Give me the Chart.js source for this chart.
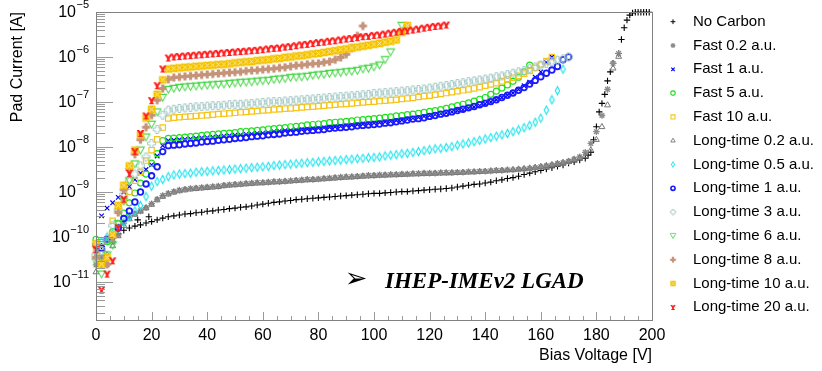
<!DOCTYPE html>
<html>
<head>
<meta charset="utf-8">
<script src="https://cdn.jsdelivr.net/npm/chart.js@4.4.0/dist/chart.umd.min.js"></script>
<style>
  html, body { margin: 0; padding: 0; background: #fff; }
  canvas { display: block; }
</style>
</head>
<body>
<canvas id="ivChart" width="822" height="371"></canvas>
<script>
// ---- data (bias voltage in V, pad current in A) ----
const biasV2 = [0,2,4,6,8,10,12,14,16,18,20,22,24,26,28,30,32,34,36,38,40,42,44,46,48,50,52,54,56,58,
  60,62,64,66,68,70,72,74,76,78,80,82,84,86,88,90,92,94,96,98,100,102,104,106,108,110,112,114,116,118,
  120,122,124,126,128,130,132,134,136,138,140,142,144,146,148,150,152,154,156,158,160,162,164,166,168,
  170,172,174,176,178,180,182,184,186,188];

const noCarbonV = [0,2,4,6,8,10,12,14,15,16,18,19,20,
  22,24,26,28,30,32,34,36,38,40,42,44,46,48,50,52,54,56,58,60,62,64,66,68,70,72,74,76,78,80,
  82,84,86,88,90,92,94,96,98,100,102,104,106,108,110,112,114,116,118,120,122,124,126,128,130,
  132,134,136,138,140,142,144,146,148,150,152,154,156,158,160,162,164,166,168,170,172,174,176,
  177,178,179,180,181,182,183,184,185,186,188,189,190,191,192,193,194,195,196,197,198,199];
const noCarbonI = [4.5e-11,6.2e-11,7.9e-11,9.5e-11,1.17e-10,1.41e-10,1.58e-10,1.74e-10,2.4e-10,1.86e-10,2.04e-10,2.82e-10,2.19e-10,
  2.4e-10,2.63e-10,2.82e-10,2.95e-10,3.09e-10,3.24e-10,3.31e-10,3.47e-10,3.55e-10,3.72e-10,
  3.8e-10,3.98e-10,4.07e-10,4.27e-10,4.37e-10,4.57e-10,4.68e-10,4.9e-10,5.13e-10,5.37e-10,
  5.62e-10,5.89e-10,6.03e-10,6.31e-10,6.46e-10,6.76e-10,6.92e-10,7.08e-10,7.24e-10,7.41e-10,
  7.59e-10,7.76e-10,7.94e-10,8.13e-10,8.32e-10,8.51e-10,8.71e-10,8.91e-10,9.12e-10,9.33e-10,
  9.33e-10,9.55e-10,9.77e-10,1.0e-9,1.02e-9,1.02e-9,1.05e-9,1.07e-9,1.1e-9,1.12e-9,
  1.15e-9,1.17e-9,1.2e-9,1.23e-9,1.29e-9,1.35e-9,1.41e-9,1.48e-9,1.51e-9,1.58e-9,
  1.66e-9,1.78e-9,1.86e-9,2.0e-9,2.09e-9,2.24e-9,2.45e-9,2.63e-9,2.82e-9,3.02e-9,
  3.24e-9,3.47e-9,3.72e-9,3.98e-9,4.37e-9,4.68e-9,5.13e-9,5.62e-9,
  6.61e-9,7.59e-9,1.45e-8,2.82e-8,6.03e-8,9.33e-8,1.48e-7,2.95e-7,4.68e-7,7.24e-7,
  1.2e-6,2.45e-6,4.47e-6,6.61e-6,8.51e-6,9.55e-6,9.9e-6,9.9e-6,9.9e-6,9.9e-6,9.9e-6,9.9e-6];

const fast02I = [2.4e-11,3.55e-11,2.4e-11,7.94e-11,1.12e-10,2.0e-10,2.75e-10,3.31e-10,3.8e-10,4.47e-10,
  5.5e-10,6.92e-10,8.32e-10,9.33e-10,1.02e-9,1.1e-9,1.15e-9,1.2e-9,1.23e-9,1.26e-9,
  1.29e-9,1.32e-9,1.35e-9,1.41e-9,1.45e-9,1.48e-9,1.51e-9,1.55e-9,1.58e-9,1.62e-9,
  1.62e-9,1.66e-9,1.7e-9,1.7e-9,1.74e-9,1.78e-9,1.82e-9,1.86e-9,1.91e-9,1.91e-9,
  1.95e-9,2.0e-9,2.04e-9,2.09e-9,2.14e-9,2.19e-9,2.19e-9,2.24e-9,2.29e-9,2.34e-9,
  2.34e-9,2.4e-9,2.4e-9,2.45e-9,2.45e-9,2.51e-9,2.51e-9,2.57e-9,2.57e-9,2.63e-9,
  2.63e-9,2.63e-9,2.69e-9,2.69e-9,2.69e-9,2.75e-9,2.75e-9,2.82e-9,2.82e-9,2.88e-9,
  2.88e-9,2.95e-9,3.02e-9,3.02e-9,3.09e-9,3.09e-9,3.16e-9,3.24e-9,3.31e-9,3.47e-9,
  3.63e-9,3.8e-9,3.98e-9,4.27e-9,4.47e-9,4.79e-9,5.37e-9,6.03e-9,7.59e-9,1.2e-8,
  2.19e-8,5.01e-8,1.91e-7,7.24e-7,1.2e-6];

const fast1I = [4.0e-11,2.95e-10,4.37e-10,5.75e-10,7.6e-10,1.0e-9,1.32e-9,1.9e-9,2.63e-9,3.16e-9,
  4.0e-9,6.3e-9,1.07e-8,1.38e-8,1.41e-8,1.45e-8,1.48e-8,1.51e-8,1.55e-8,1.58e-8,
  1.62e-8,1.66e-8,1.7e-8,1.74e-8,1.78e-8,1.82e-8,1.86e-8,1.9e-8,1.95e-8,2.0e-8,
  2.04e-8,2.09e-8,2.19e-8,2.24e-8,2.29e-8,2.34e-8,2.4e-8,2.45e-8,2.51e-8,2.57e-8,
  2.63e-8,2.69e-8,2.75e-8,2.82e-8,2.88e-8,3.02e-8,3.09e-8,3.16e-8,3.24e-8,3.31e-8,
  3.39e-8,3.47e-8,3.63e-8,3.72e-8,3.89e-8,3.98e-8,4.17e-8,4.37e-8,4.57e-8,4.79e-8,
  5.01e-8,5.25e-8,5.5e-8,5.75e-8,6.03e-8,6.46e-8,6.76e-8,7.24e-8,7.76e-8,8.32e-8,
  9.12e-8,1.0e-7,1.12e-7,1.26e-7,1.41e-7,1.58e-7,1.9e-7,2.29e-7,2.75e-7,3.55e-7,
  4.68e-7,7.59e-7,1.0e-6];

const fast5I = [8.9e-11,3.5e-11,7.9e-11,1.32e-10,1.95e-10,3.4e-10,5.75e-10,9.5e-10,1.58e-9,2.5e-9,
  4.4e-9,7.1e-9,1.38e-8,1.55e-8,1.58e-8,1.62e-8,1.66e-8,1.7e-8,1.74e-8,1.82e-8,
  1.86e-8,1.9e-8,1.95e-8,2.0e-8,2.04e-8,2.09e-8,2.19e-8,2.24e-8,2.29e-8,2.34e-8,
  2.4e-8,2.51e-8,2.57e-8,2.63e-8,2.69e-8,2.82e-8,2.88e-8,2.95e-8,3.09e-8,3.16e-8,
  3.24e-8,3.31e-8,3.47e-8,3.55e-8,3.63e-8,3.72e-8,3.8e-8,3.98e-8,4.07e-8,4.17e-8,
  4.27e-8,4.37e-8,4.57e-8,4.68e-8,4.9e-8,5.0e-8,5.25e-8,5.37e-8,5.62e-8,5.89e-8,
  6.17e-8,6.46e-8,6.76e-8,7.24e-8,7.76e-8,8.32e-8,8.91e-8,9.55e-8,1.05e-7,1.15e-7,
  1.26e-7,1.48e-7,1.74e-7,2.04e-7,2.4e-7,2.88e-7,3.55e-7,4.68e-7,6.6e-7];

const fast10I = [5.0e-11,4.5e-11,8.9e-11,2.3e-10,4.0e-10,6.3e-10,1.0e-9,1.78e-9,2.8e-9,5.0e-9,
  8.5e-9,1.48e-8,2.7e-8,4.3e-8,4.5e-8,4.6e-8,4.7e-8,4.8e-8,4.9e-8,5.0e-8,
  5.1e-8,5.25e-8,5.4e-8,5.5e-8,5.6e-8,5.75e-8,5.9e-8,6.0e-8,6.2e-8,6.3e-8,
  6.5e-8,6.6e-8,6.8e-8,6.9e-8,7.1e-8,7.2e-8,7.4e-8,7.6e-8,7.8e-8,7.9e-8,
  8.1e-8,8.3e-8,8.5e-8,8.7e-8,8.9e-8,9.1e-8,9.3e-8,9.5e-8,9.8e-8,1.0e-7,
  1.02e-7,1.05e-7,1.07e-7,1.1e-7,1.12e-7,1.17e-7,1.2e-7,1.23e-7,1.29e-7,1.35e-7,
  1.38e-7,1.45e-7,1.51e-7,1.58e-7,1.66e-7,1.74e-7,1.82e-7,1.9e-7,2.0e-7,2.14e-7,
  2.3e-7,2.45e-7,2.63e-7,2.88e-7,3.16e-7,3.47e-7,3.8e-7,4.27e-7,4.9e-7,5.75e-7,
  6.8e-7,8.1e-7,1.0e-6];

const lt02I = [1.66e-11,2.5e-11,4.0e-11,6.3e-11,1.05e-10,1.78e-10,2.5e-10,3.16e-10,3.7e-10,4.37e-10,
  5.25e-10,6.6e-10,7.9e-10,8.9e-10,9.8e-10,1.05e-9,1.1e-9,1.15e-9,1.18e-9,1.21e-9,
  1.24e-9,1.27e-9,1.3e-9,1.36e-9,1.4e-9,1.43e-9,1.46e-9,1.5e-9,1.53e-9,1.56e-9,
  1.58e-9,1.62e-9,1.65e-9,1.67e-9,1.7e-9,1.73e-9,1.77e-9,1.8e-9,1.84e-9,1.86e-9,
  1.9e-9,1.94e-9,1.98e-9,2.02e-9,2.06e-9,2.1e-9,2.13e-9,2.17e-9,2.21e-9,2.25e-9,
  2.28e-9,2.32e-9,2.34e-9,2.37e-9,2.39e-9,2.42e-9,2.45e-9,2.48e-9,2.5e-9,2.53e-9,
  2.55e-9,2.57e-9,2.6e-9,2.62e-9,2.64e-9,2.67e-9,2.7e-9,2.74e-9,2.77e-9,2.81e-9,
  2.85e-9,2.9e-9,2.95e-9,3.0e-9,3.06e-9,3.12e-9,3.2e-9,3.28e-9,3.38e-9,3.5e-9,
  3.65e-9,3.82e-9,4.0e-9,4.25e-9,4.5e-9,4.8e-9,5.2e-9,5.7e-9,6.3e-9,8.5e-9,
  1.45e-8,2.8e-8,8.5e-8,5.6e-7,1.02e-6];

const lt05I = [6.3e-11,7.9e-11,1.0e-10,1.2e-10,1.58e-10,2.1e-10,2.8e-10,3.8e-10,5.0e-10,7.9e-10,
  1.35e-9,1.7e-9,1.9e-9,2.19e-9,2.4e-9,2.51e-9,2.57e-9,2.63e-9,2.75e-9,2.82e-9,
  2.88e-9,2.95e-9,3.02e-9,3.09e-9,3.16e-9,3.24e-9,3.31e-9,3.39e-9,3.47e-9,3.55e-9,
  3.63e-9,3.72e-9,3.89e-9,3.98e-9,4.07e-9,4.17e-9,4.27e-9,4.37e-9,4.47e-9,4.57e-9,
  4.68e-9,4.79e-9,4.9e-9,5.01e-9,5.13e-9,5.25e-9,5.37e-9,5.5e-9,5.62e-9,5.75e-9,
  5.89e-9,6.03e-9,6.31e-9,6.61e-9,6.76e-9,7.08e-9,7.24e-9,7.59e-9,7.94e-9,8.32e-9,
  8.71e-9,9.12e-9,9.33e-9,9.77e-9,1.02e-8,1.1e-8,1.17e-8,1.23e-8,1.32e-8,1.41e-8,
  1.51e-8,1.62e-8,1.74e-8,1.86e-8,2.0e-8,2.19e-8,2.4e-8,2.69e-8,3.02e-8,3.55e-8,
  4.37e-8,6.61e-8,1.12e-7,1.78e-7,5.37e-7];

const lt1I = [6.6e-11,5.6e-11,8.9e-11,1.05e-10,1.58e-10,2.57e-10,3.8e-10,6.0e-10,1.0e-9,1.51e-9,
  2.29e-9,3.63e-9,7.9e-9,1.07e-8,1.1e-8,1.12e-8,1.17e-8,1.2e-8,1.23e-8,1.29e-8,
  1.32e-8,1.35e-8,1.41e-8,1.45e-8,1.48e-8,1.55e-8,1.58e-8,1.62e-8,1.7e-8,1.74e-8,
  1.78e-8,1.86e-8,1.9e-8,1.95e-8,2.04e-8,2.09e-8,2.14e-8,2.24e-8,2.29e-8,2.34e-8,
  2.4e-8,2.45e-8,2.57e-8,2.63e-8,2.69e-8,2.75e-8,2.82e-8,2.95e-8,3.02e-8,3.09e-8,
  3.16e-8,3.24e-8,3.39e-8,3.47e-8,3.63e-8,3.8e-8,3.98e-8,4.17e-8,4.27e-8,4.47e-8,
  4.79e-8,5.01e-8,5.37e-8,5.62e-8,6.03e-8,6.46e-8,6.92e-8,7.41e-8,7.94e-8,8.71e-8,
  9.33e-8,1.02e-7,1.12e-7,1.26e-7,1.41e-7,1.58e-7,1.82e-7,2.09e-7,2.51e-7,3.02e-7,
  3.63e-7,4.37e-7,5.13e-7,6.17e-7,8.71e-7,1.0e-6];

const lt3I = [4.0e-11,5.0e-11,8.9e-11,1.78e-10,4.0e-10,8.9e-10,1.78e-9,2.5e-9,3.8e-9,6.0e-9,
  1.2e-8,2.45e-8,5.1e-8,6.6e-8,6.9e-8,7.2e-8,7.4e-8,7.6e-8,7.8e-8,7.9e-8,
  8.1e-8,8.3e-8,8.3e-8,8.5e-8,8.7e-8,8.9e-8,8.9e-8,9.1e-8,9.3e-8,9.5e-8,
  9.8e-8,1.0e-7,1.02e-7,1.02e-7,1.05e-7,1.07e-7,1.1e-7,1.12e-7,1.15e-7,1.17e-7,
  1.2e-7,1.23e-7,1.26e-7,1.29e-7,1.32e-7,1.35e-7,1.38e-7,1.41e-7,1.45e-7,1.48e-7,
  1.55e-7,1.58e-7,1.62e-7,1.66e-7,1.7e-7,1.74e-7,1.78e-7,1.86e-7,1.9e-7,1.95e-7,
  2.04e-7,2.14e-7,2.24e-7,2.34e-7,2.45e-7,2.57e-7,2.69e-7,2.82e-7,2.95e-7,3.09e-7,
  3.24e-7,3.39e-7,3.63e-7,3.8e-7,4.07e-7,4.37e-7,4.68e-7,5.0e-7,5.5e-7,6.0e-7,
  6.6e-7,7.2e-7,7.9e-7,8.5e-7,9.1e-7,1.0e-6];

const lt6I = [2.8e-11,1.5e-11,4.0e-11,6.6e-11,2.0e-10,6.3e-10,1.78e-9,4.2e-9,8.5e-9,1.66e-8,
  3.2e-8,6.0e-8,1.26e-7,1.9e-7,2.0e-7,2.1e-7,2.15e-7,2.2e-7,2.25e-7,2.3e-7,
  2.35e-7,2.4e-7,2.45e-7,2.5e-7,2.57e-7,2.63e-7,2.7e-7,2.75e-7,2.8e-7,2.9e-7,
  2.95e-7,3.0e-7,3.16e-7,3.24e-7,3.3e-7,3.5e-7,3.55e-7,3.6e-7,3.7e-7,3.9e-7,
  4.0e-7,4.1e-7,4.3e-7,4.4e-7,4.5e-7,4.7e-7,4.8e-7,5.0e-7,5.4e-7,5.6e-7,
  6.0e-7,6.6e-7,8.7e-7,1.29e-6,null,5.0e-6];

const lt8I = [3.5e-11,2.5e-11,2.5e-11,1.0e-10,3.5e-10,1.12e-9,3.2e-9,6.9e-9,1.45e-8,2.75e-8,
  5.1e-8,1.1e-7,2.0e-7,3.2e-7,3.5e-7,3.6e-7,3.7e-7,3.8e-7,3.9e-7,4.0e-7,
  4.1e-7,4.2e-7,4.3e-7,4.4e-7,4.5e-7,4.6e-7,4.7e-7,4.9e-7,5.0e-7,5.1e-7,
  5.25e-7,5.4e-7,5.5e-7,5.75e-7,5.9e-7,6.2e-7,6.5e-7,6.6e-7,6.9e-7,7.1e-7,
  7.2e-7,7.6e-7,7.9e-7,8.7e-7,9.8e-7,1.15e-6,1.58e-6,2.95e-6,4.9e-6];

const lt10I = [7.1e-11,2.5e-11,3.5e-11,1.12e-10,5.0e-10,1.41e-9,3.8e-9,8.5e-9,1.86e-8,4.4e-8,
  6.9e-8,1.48e-7,3.1e-7,5.4e-7,5.6e-7,5.75e-7,5.9e-7,6.0e-7,6.2e-7,6.3e-7,
  6.5e-7,6.6e-7,6.8e-7,6.9e-7,7.1e-7,7.4e-7,7.6e-7,7.8e-7,7.9e-7,8.3e-7,
  8.5e-7,8.7e-7,9.1e-7,9.3e-7,9.8e-7,1.0e-6,1.05e-6,1.07e-6,1.12e-6,1.17e-6,
  1.2e-6,1.26e-6,1.32e-6,1.38e-6,1.45e-6,1.51e-6,1.58e-6,1.66e-6,1.74e-6,1.82e-6,
  1.91e-6,2.0e-6,2.14e-6,2.24e-6,2.4e-6,3.55e-6,5.0e-6];

const lt20I = [5.37e-11,6.6e-12,1.5e-11,2.95e-11,1.6e-10,6.9e-10,2.6e-9,7.9e-9,2.0e-8,4.9e-8,
  1.07e-7,2.3e-7,5.4e-7,9.5e-7,1.0e-6,1.02e-6,1.05e-6,1.07e-6,1.1e-6,1.12e-6,
  1.15e-6,1.17e-6,1.2e-6,1.23e-6,1.26e-6,1.29e-6,1.32e-6,1.35e-6,1.38e-6,1.41e-6,
  1.45e-6,1.51e-6,1.55e-6,1.58e-6,1.66e-6,1.7e-6,1.78e-6,1.86e-6,1.91e-6,2.0e-6,
  2.09e-6,2.14e-6,2.24e-6,2.29e-6,2.4e-6,2.51e-6,2.57e-6,2.69e-6,2.82e-6,2.88e-6,
  3.02e-6,3.09e-6,3.24e-6,3.39e-6,3.55e-6,3.72e-6,3.8e-6,3.98e-6,4.17e-6,4.37e-6,
  4.57e-6,4.79e-6,4.9e-6,5.13e-6];

const seriesLabels = ['No Carbon','Fast 0.2 a.u.','Fast 1 a.u.','Fast 5 a.u.','Fast 10 a.u.',
  'Long-time 0.2 a.u.','Long-time 0.5 a.u.','Long-time 1 a.u.','Long-time 3 a.u.',
  'Long-time 6 a.u.','Long-time 8 a.u.','Long-time 10 a.u.','Long-time 20 a.u.'];

const xTickStep = 20;
const yDecadeExps = [-11,-10,-9,-8,-7,-6,-5];
const yMinorMantissas = [2,3,4,5,6,7,8,9];
const Y_MIN = 1.43e-12, Y_MAX = 1e-5;

// ---- marker images for ROOT-like symbols ----
function markerCanvas(size, paint) {
  const c = document.createElement('canvas');
  c.width = size; c.height = size;
  const g = c.getContext('2d');
  g.translate(size / 2, size / 2);
  paint(g);
  return c;
}
function plusPath(g, a, b) {
  g.beginPath();
  g.moveTo(-b,-a); g.lineTo(b,-a); g.lineTo(b,-b); g.lineTo(a,-b); g.lineTo(a,b); g.lineTo(b,b);
  g.lineTo(b,a); g.lineTo(-b,a); g.lineTo(-b,b); g.lineTo(-a,b); g.lineTo(-a,-b); g.lineTo(-b,-b);
  g.closePath();
}
const diamondMark = markerCanvas(11, g => {
  g.strokeStyle = '#19e3ee'; g.lineWidth = 1.1;
  g.beginPath(); g.moveTo(0,-4); g.lineTo(2.2,0); g.lineTo(0,4); g.lineTo(-2.2,0); g.closePath(); g.stroke();
});
const openPlusMark = markerCanvas(11, g => {
  g.strokeStyle = '#a3c9c6'; g.lineWidth = 1; plusPath(g, 4, 1.4); g.stroke();
});
const downTriMark = markerCanvas(11, g => {
  g.strokeStyle = '#4bd64b'; g.lineWidth = 1.1;
  g.beginPath(); g.moveTo(-3.8,-3.1); g.lineTo(3.8,-3.1); g.lineTo(0,3.7); g.closePath(); g.stroke();
});
const filledPlusMark = markerCanvas(11, g => {
  g.fillStyle = '#c4937a'; plusPath(g, 4, 1.6); g.fill();
});
const patternSquareMark = markerCanvas(11, g => {
  g.fillStyle = '#f4c300'; g.fillRect(-3.8,-3.8,7.6,7.6);
  g.strokeStyle = 'rgba(255,236,170,0.95)'; g.lineWidth = 1;
  g.beginPath(); g.moveTo(-2.4,-2.4); g.lineTo(2.4,2.4); g.moveTo(2.4,-2.4); g.lineTo(-2.4,2.4); g.stroke();
});
const redYMark = markerCanvas(11, g => {
  g.fillStyle = '#ff1c1c';
  g.beginPath();
  g.moveTo(-3.8,-3.6); g.lineTo(-1.4,-3.6); g.lineTo(0,-1.4); g.lineTo(1.4,-3.6); g.lineTo(3.8,-3.6);
  g.lineTo(1.3,0.4); g.lineTo(1.3,2.0); g.lineTo(2.8,3.6); g.lineTo(-2.8,3.6); g.lineTo(-1.3,2.0);
  g.lineTo(-1.3,0.4); g.closePath(); g.fill();
});

const NONE = 'rgba(0,0,0,0)';
function pts(vArr, iArr) { return iArr.map((c, k) => ({ x: vArr[k], y: c })); }

const styles = [
  { data: pts(noCarbonV, noCarbonI), pointStyle: 'cross', borderColor: '#000', backgroundColor: NONE, r: 3.2, bw: 1.1 },
  { data: pts(biasV2, fast02I), pointStyle: 'star', borderColor: '#8c8c8c', backgroundColor: NONE, r: 3.3, bw: 1.3 },
  { data: pts(biasV2, fast1I), pointStyle: 'crossRot', borderColor: '#0000ff', backgroundColor: NONE, r: 3.2, bw: 1.2 },
  { data: pts(biasV2, fast5I), pointStyle: 'circle', borderColor: '#1fe01f', backgroundColor: NONE, r: 3.0, bw: 1.2 },
  { data: pts(biasV2, fast10I), pointStyle: 'rect', borderColor: '#f6c51a', backgroundColor: NONE, r: 3.8, bw: 1.2 },
  { data: pts(biasV2, lt02I), pointStyle: 'triangle', borderColor: '#777', backgroundColor: NONE, r: 3.4, bw: 1.0 },
  { data: pts(biasV2, lt05I), pointStyle: diamondMark, borderColor: '#19e3ee', backgroundColor: NONE, r: 3, bw: 1 },
  { data: pts(biasV2, lt1I), pointStyle: 'circle', borderColor: '#1a1aff', backgroundColor: NONE, r: 2.8, bw: 1.8 },
  { data: pts(biasV2, lt3I), pointStyle: openPlusMark, borderColor: '#a3c9c6', backgroundColor: NONE, r: 3, bw: 1 },
  { data: pts(biasV2, lt6I), pointStyle: downTriMark, borderColor: '#4bd64b', backgroundColor: NONE, r: 3, bw: 1 },
  { data: pts(biasV2, lt8I), pointStyle: filledPlusMark, borderColor: '#c4937a', backgroundColor: '#c4937a', r: 3, bw: 1 },
  { data: pts(biasV2, lt10I), pointStyle: patternSquareMark, borderColor: '#f4c300', backgroundColor: '#f4c300', r: 3, bw: 1 },
  { data: pts(biasV2, lt20I), pointStyle: redYMark, borderColor: '#ff1c1c', backgroundColor: '#ff1c1c', r: 3, bw: 1 }
];

const datasets = styles.map((s, i) => ({
  label: seriesLabels[i],
  data: s.data,
  pointStyle: s.pointStyle,
  borderColor: s.borderColor,
  backgroundColor: s.backgroundColor,
  pointRadius: s.r,
  pointBorderWidth: s.bw,
  showLine: false,
  clip: false,
  order: styles.length - i
}));

const SANS = '"Liberation Sans", Arial, sans-serif';

// frame, inward ticks, y labels, titles, legend, annotation
const rootDecor = {
  id: 'rootDecor',
  afterDraw(chart) {
    const { ctx, chartArea: a, scales: { x, y } } = chart;
    ctx.save();
    // ticks
    ctx.strokeStyle = '#9a9a9a'; ctx.lineWidth = 1;
    ctx.beginPath();
    for (let e = -12; e <= -5; e++) {
      [1].concat(yMinorMantissas).forEach(m => {
        const v = m * Math.pow(10, e);
        if (v < Y_MIN || v > Y_MAX) return;
        const py = Math.round(y.getPixelForValue(v)) + 0.5;
        const len = m === 1 ? 17 : 9;
        ctx.moveTo(a.left, py); ctx.lineTo(a.left + len, py);
      });
    }
    for (let v = 0; v <= 200; v += 5) {
      const px = Math.round(x.getPixelForValue(v)) + 0.5;
      const len = v % xTickStep === 0 ? 8 : 4;
      ctx.moveTo(px, a.bottom); ctx.lineTo(px, a.bottom - len);
    }
    ctx.stroke();
    // frame
    ctx.strokeStyle = '#808080';
    ctx.strokeRect(Math.round(a.left) + 0.5, Math.round(a.top) + 0.5, Math.round(a.right - a.left), Math.round(a.bottom - a.top));

    // y tick labels 10^n
    ctx.fillStyle = '#000';
    yDecadeExps.forEach(e => {
      const py = y.getPixelForValue(Math.pow(10, e));
      const ex = '\u2212' + Math.abs(e);
      ctx.font = '11px ' + SANS;
      const w2 = ctx.measureText(ex).width;
      const right = a.left - 7;
      ctx.textAlign = 'left'; ctx.textBaseline = 'middle';
      ctx.fillText(ex, right - w2, py - 7);
      ctx.font = '16px ' + SANS;
      ctx.textAlign = 'right';
      ctx.fillText('10', right - w2 - 0.5, py + 1);
    });

    // axis titles
    ctx.font = '16px ' + SANS;
    ctx.textAlign = 'right'; ctx.textBaseline = 'middle';
    ctx.fillText('Bias Voltage [V]', a.right, 356);
    ctx.save();
    ctx.translate(18, a.top);
    ctx.rotate(-Math.PI / 2);
    ctx.fillText('Pad Current [A]', 0, 0);
    ctx.restore();

    // legend
    chart.data.datasets.forEach((ds, i) => {
      const ly = 21.7 + i * 23.8;
      const lx = 673;
      ctx.save();
      if (typeof ds.pointStyle === 'string') {
        ctx.strokeStyle = ds.borderColor; ctx.fillStyle = ds.backgroundColor;
        ctx.lineWidth = ds.pointBorderWidth * 0.9;
        Chart.helpers.drawPoint(ctx, { pointStyle: ds.pointStyle, rotation: 0, radius: ds.pointRadius * 0.75, borderWidth: ds.pointBorderWidth }, lx, ly);
      } else {
        const img = ds.pointStyle, s = 0.72;
        ctx.drawImage(img, lx - img.width * s / 2, ly - img.height * s / 2, img.width * s, img.height * s);
      }
      ctx.restore();
      ctx.fillStyle = '#000';
      ctx.font = '15px ' + SANS;
      ctx.textAlign = 'left'; ctx.textBaseline = 'middle';
      ctx.fillText(ds.label, 693, ly);
    });

    // annotation
    ctx.fillStyle = '#000';
    ctx.font = '27px "DejaVu Sans"';
    ctx.textAlign = 'center'; ctx.textBaseline = 'middle';
    ctx.fillText('\u27A2', 356, 280);
    ctx.font = 'italic bold 23px "Liberation Serif", "Times New Roman", serif';
    ctx.textAlign = 'left'; ctx.textBaseline = 'alphabetic';
    ctx.fillText('IHEP-IMEv2 LGAD', 385, 288);
    ctx.restore();
  }
};

new Chart(document.getElementById('ivChart'), {
  type: 'scatter',
  data: { datasets },
  options: {
    responsive: false,
    animation: false,
    devicePixelRatio: 1,
    events: [],
    layout: { padding: { left: 0, right: 170, top: 12, bottom: 0 } },
    plugins: { legend: { display: false }, tooltip: { enabled: false } },
    scales: {
      x: {
        type: 'linear', min: 0, max: 200,
        grid: { display: false, drawTicks: false },
        border: { display: false },
        ticks: { stepSize: xTickStep, color: '#000', font: { family: SANS, size: 16 }, padding: 6, maxRotation: 0, autoSkip: false },
        afterFit(s) { s.height = 51; }
      },
      y: {
        type: 'logarithmic', min: Y_MIN, max: Y_MAX,
        grid: { display: false, drawTicks: false },
        border: { display: false },
        ticks: { display: false },
        afterFit(s) { s.width = 96; }
      }
    }
  },
  plugins: [rootDecor]
});
</script>
</body>
</html>
